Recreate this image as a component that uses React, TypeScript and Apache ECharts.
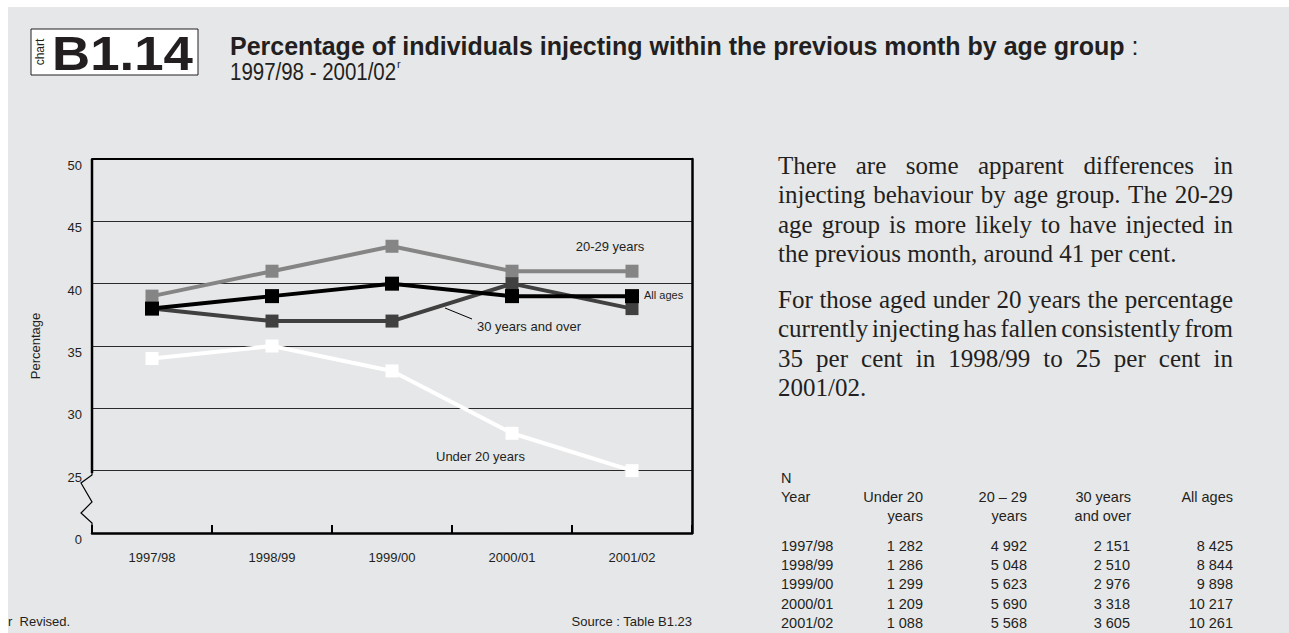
import React, { useEffect, useRef } from 'react';
import * as echarts from 'echarts';

// ---------- data ----------
const categories = ['1997/98', '1998/99', '1999/00', '2000/01', '2001/02'];
const age2029 = [39, 41, 43, 41, 41];
const allAges = [38, 39, 40, 39, 39];
const age30plus = [38, 37, 37, 40, 38];
const under20 = [34, 35, 33, 28, 25];
const yMin = 20; // shown as "0" (broken axis)
const yMax = 50;
const yStep = 5;

const tableHeader1 = ['Year', 'Under 20', '20 – 29', '30 years', 'All ages'];
const tableHeader2 = ['', 'years', 'years', 'and over', ''];
const tableYears = ['1997/98', '1998/99', '1999/00', '2000/01', '2001/02'];
const nUnder20 = ['1 282', '1 286', '1 299', '1 209', '1 088'];
const n2029 = ['4 992', '5 048', '5 623', '5 690', '5 568'];
const n30plus = ['2 151', '2 510', '2 976', '3 318', '3 605'];
const nAll = ['8 425', '8 844', '9 898', '10 217', '10 261'];

const para1 = [
  'There are some apparent differences in',
  'injecting behaviour by age group. The 20-29',
  'age group is more likely to have injected in',
  'the previous month, around 41 per cent.',
];
const para2 = [
  'For those aged under 20 years the percentage',
  'currently injecting has fallen consistently from',
  '35 per cent in 1998/99 to 25 per cent in',
  '2001/02.',
];

const SANS = '"Liberation Sans", Arial, Helvetica, sans-serif';
const SERIF = '"Liberation Serif", "Times New Roman", serif';
const BG = '#e6e7e9';

export default function App() {
  const ref = useRef<HTMLDivElement>(null);

  useEffect(() => {
    if (!ref.current) return;
    const chart = echarts.init(ref.current, undefined, { renderer: 'svg' });

    // justified paragraph text
    const paraSize = 25;
    const paraLeft = 778;
    const paraWidth = 455;
    const canvas = document.createElement('canvas');
    const ctx = canvas.getContext('2d')!;
    ctx.font = `${paraSize}px ${SERIF}`;
    const paraElems: any[] = [];
    const addPara = (lines: string[], y0: number, pitch: number) => {
      lines.forEach((line, i) => {
        const y = y0 + i * pitch;
        const last = i === lines.length - 1;
        if (last) {
          paraElems.push({
            type: 'text', x: paraLeft, y,
            style: { text: line, fontFamily: SERIF, fontSize: paraSize, fill: '#231f20', align: 'left', verticalAlign: 'middle' },
          });
          return;
        }
        const words = line.split(' ');
        const widths = words.map((w) => ctx.measureText(w).width);
        const total = widths.reduce((a, b) => a + b, 0);
        const gap = (paraWidth - total) / (words.length - 1);
        let x = paraLeft;
        words.forEach((w, k) => {
          paraElems.push({
            type: 'text', x, y,
            style: { text: w, fontFamily: SERIF, fontSize: paraSize, fill: '#231f20', align: 'left', verticalAlign: 'middle' },
          });
          x += widths[k] + gap;
        });
      });
    };
    addPara(para1, 165, 29.5);
    addPara(para2, 299, 29.5);

    // table
    const tableElems: any[] = [];
    const colX = [781, 923, 1027, 1131, 1233];
    const colAlign = ['left', 'right', 'right', 'right', 'right'];
    const tFont = { fontFamily: SANS, fontSize: 14.5, fill: '#231f20' };
    tableElems.push({ type: 'text', x: 781, y: 478, style: { ...tFont, text: 'N', align: 'left', verticalAlign: 'middle' } });
    tableHeader1.forEach((t, i) => {
      tableElems.push({ type: 'text', x: colX[i], y: 497, style: { ...tFont, text: t, align: colAlign[i], verticalAlign: 'middle' } });
    });
    tableHeader2.forEach((t, i) => {
      if (!t) return;
      tableElems.push({ type: 'text', x: colX[i], y: 516, style: { ...tFont, text: t, align: colAlign[i], verticalAlign: 'middle' } });
    });
    const cols = [tableYears, nUnder20, n2029, n30plus, nAll];
    tableYears.forEach((_, r) => {
      cols.forEach((col, c) => {
        tableElems.push({
          type: 'text', x: c === 3 ? 1130 : colX[c], y: 546 + r * 19.2,
          style: { ...tFont, text: col[r], align: colAlign[c], verticalAlign: 'middle' },
        });
      });
    });

    const lineSeries = (name: string, data: number[], color: string, size: number) => ({
      name,
      type: 'line',
      data,
      symbol: 'rect',
      symbolSize: size,
      lineStyle: { color, width: 4 },
      itemStyle: { color, borderWidth: 0 },
      emphasis: { disabled: true },
      z: 5,
    });

    const option: any = {
      animation: false,
      backgroundColor: BG,
      textStyle: { fontFamily: SANS },
      grid: { left: 92, top: 159, width: 600, height: 374, containLabel: false },
      xAxis: [
        {
          type: 'category',
          data: categories,
          boundaryGap: true,
          position: 'bottom',
          axisLine: { show: true, lineStyle: { color: '#000', width: 2.5 } },
          axisTick: { show: true, inside: true, length: 8, lineStyle: { color: '#000', width: 2 } },
          axisLabel: { color: '#231f20', fontSize: 13, margin: 18, fontFamily: SANS },
          splitLine: { show: false },
        },
        {
          type: 'category',
          data: categories,
          position: 'top',
          axisLine: { show: true, lineStyle: { color: '#000', width: 2 } },
          axisTick: { show: false },
          axisLabel: { show: false },
          splitLine: { show: false },
        },
      ],
      yAxis: [
        {
          type: 'value',
          min: yMin,
          max: yMax,
          interval: yStep,
          name: 'Percentage',
          nameLocation: 'middle',
          nameGap: 50,
          nameTextStyle: { color: '#231f20', fontSize: 13, fontFamily: SANS },
          axisLine: { show: false },
          axisTick: { show: false },
          axisLabel: {
            color: '#231f20', fontSize: 13, margin: 10, verticalAlign: 'top', fontFamily: SANS,
            formatter: (v: number) => (v === yMin ? '0' : String(v)),
          },
          splitLine: { show: true, lineStyle: { color: '#2b2b2b', width: 1.2 } },
        },
        {
          type: 'value',
          min: yMin,
          max: yMax,
          interval: yStep,
          position: 'right',
          axisLine: { show: true, lineStyle: { color: '#000', width: 2.5 } },
          axisTick: { show: false },
          axisLabel: { show: false },
          splitLine: { show: false },
        },
      ],
      series: [
        lineSeries('Under 20 years', under20, '#ffffff', 13),
        lineSeries('20-29 years', age2029, '#858585', 13),
        lineSeries('30 years and over', age30plus, '#404040', 13),
        lineSeries('All ages', allAges, '#000000', 14),
      ],
      graphic: [
        // white page margins
        { type: 'rect', shape: { x: 0, y: 0, width: 1289, height: 7 }, style: { fill: '#fff' }, z: -10 },
        { type: 'rect', shape: { x: 0, y: 0, width: 8, height: 633 }, style: { fill: '#fff' }, z: -10 },
        // header box
        { type: 'rect', shape: { x: 31, y: 29, width: 167, height: 46 }, style: { fill: '#fff', stroke: '#231f20', lineWidth: 1 } },
        {
          type: 'text', x: 40, y: 52, rotation: Math.PI / 2,
          style: { text: 'chart', fontFamily: SANS, fontSize: 12, fill: '#231f20', align: 'center', verticalAlign: 'middle' },
        },
        {
          type: 'text', x: 122.5, y: 53, scaleX: 1.1,
          style: { text: 'B1.14', fontFamily: SANS, fontWeight: 'bold', fontSize: 48, fill: '#231f20', align: 'center', verticalAlign: 'middle' },
        },
        {
          type: 'text', x: 230, y: 46,
          style: {
            text: '{b|Percentage of individuals injecting within the previous month by age group}{n| :}',
            fill: '#231f20', align: 'left', verticalAlign: 'middle',
            rich: {
              b: { fontFamily: SANS, fontWeight: 'bold', fontSize: 25, fill: '#231f20' },
              n: { fontFamily: SANS, fontSize: 25, fill: '#231f20' },
            },
          },
        },
        {
          type: 'text', x: 230, y: 72, scaleX: 0.89,
          style: { text: '1997/98 - 2001/02', fontFamily: SANS, fontSize: 23, fill: '#231f20', align: 'left', verticalAlign: 'middle' },
        },
        {
          type: 'text', x: 397, y: 64,
          style: { text: 'r', fontFamily: SANS, fontSize: 11, fill: '#231f20', align: 'left', verticalAlign: 'middle' },
        },
        // left axis with break
        { type: 'polyline', shape: { points: [[92, 159], [92, 473]] }, style: { stroke: '#000', lineWidth: 2.5, fill: 'none' }, z: 10 },
        {
          type: 'polyline',
          shape: { points: [[92, 472], [92, 475], [81, 483], [92, 502], [81, 513], [92, 523], [92, 534]] },
          style: { stroke: '#000', lineWidth: 1.2, fill: 'none' }, z: 10,
        },
        // annotations
        { type: 'text', x: 610, y: 246, style: { text: '20-29 years', fontFamily: SANS, fontSize: 13, fill: '#231f20', align: 'center', verticalAlign: 'middle' }, z: 10 },
        { type: 'text', x: 644, y: 295, style: { text: 'All ages', fontFamily: SANS, fontSize: 11, fill: '#231f20', align: 'left', verticalAlign: 'middle' }, z: 10 },
        { type: 'text', x: 477, y: 326, style: { text: '30 years and over', fontFamily: SANS, fontSize: 13, fill: '#231f20', align: 'left', verticalAlign: 'middle' }, z: 10 },
        { type: 'line', shape: { x1: 445, y1: 308, x2: 472, y2: 319 }, style: { stroke: '#000', lineWidth: 1 }, z: 10 },
        { type: 'text', x: 436, y: 456, style: { text: 'Under 20 years', fontFamily: SANS, fontSize: 13, fill: '#231f20', align: 'left', verticalAlign: 'middle' }, z: 10 },
        // footer
        { type: 'text', x: 8, y: 621, style: { text: 'r  Revised.', fontFamily: SANS, fontSize: 13, fill: '#231f20', align: 'left', verticalAlign: 'middle' } },
        { type: 'text', x: 692, y: 621, style: { text: 'Source : Table B1.23', fontFamily: SANS, fontSize: 13, fill: '#231f20', align: 'right', verticalAlign: 'middle' } },
        ...paraElems,
        ...tableElems,
      ],
    };

    chart.setOption(option);
    return () => chart.dispose();
  }, []);

  return (
    <div
      ref={ref}
      style={{ position: 'fixed', left: 0, top: 0, width: 1289, height: 633 }}
    />
  );
}
